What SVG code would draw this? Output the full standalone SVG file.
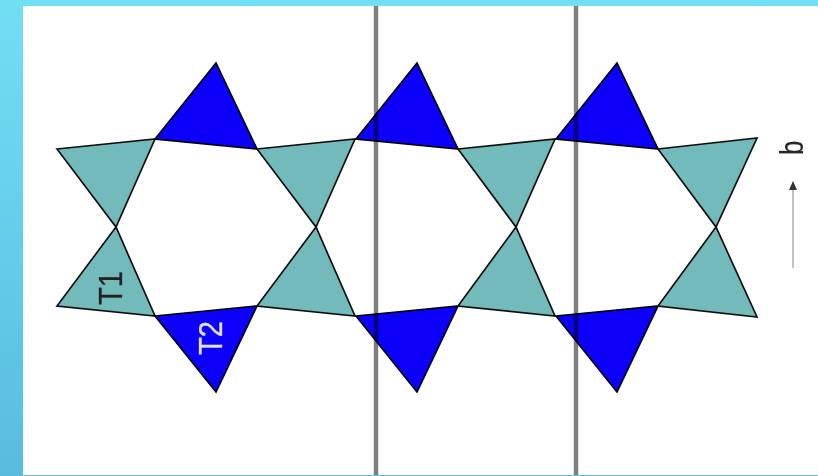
<svg xmlns="http://www.w3.org/2000/svg" width="818" height="476" viewBox="0 0 818 476">
<defs>
<linearGradient id="bg" x1="0" y1="0" x2="0" y2="1"><stop offset="0" stop-color="#72DEF4"/><stop offset="1" stop-color="#59BCDF"/></linearGradient>
<filter id="soft" filterUnits="userSpaceOnUse" x="0" y="0" width="818" height="476"><feGaussianBlur stdDeviation="0.7"/></filter>
<filter id="softline" filterUnits="userSpaceOnUse" x="360" y="0" width="230" height="476"><feGaussianBlur stdDeviation="0.7"/></filter>
<marker id="ah" markerWidth="10" markerHeight="10" refX="8" refY="4" orient="auto" markerUnits="userSpaceOnUse"><path d="M0 0L9 4L0 8Z" fill="#333"/></marker>
</defs>
<style>
.t{fill:#73BABA;stroke:#111;stroke-width:1.7}
.b{fill:#0A00FA;stroke:#000;stroke-width:1.7}
.r{stroke:#7E7E7E;stroke-width:4.4;fill:none}
text{font-family:"Liberation Sans",Arial,sans-serif;font-size:27px;stroke-width:0.2px}
</style>
<rect width="818" height="476" fill="url(#bg)"/>
<rect x="23" y="6" width="795" height="469" fill="#fff"/>
<g id="tetrahedra" filter="url(#soft)">
<g id="t1-top-1"><polygon class="t" points="57,149 155,139 116,227"/></g>
<g id="t2-top-1"><polygon class="b" points="216,63 155,139 257,149"/></g>
<g id="t1-top-2"><polygon class="t" points="257,149 355,139 316,227"/></g>
<g id="t2-top-2"><polygon class="b" points="417,63 356,139 458,149"/></g>
<g id="t1-top-3"><polygon class="t" points="458,149 555,139 516,227"/></g>
<g id="t2-top-3"><polygon class="b" points="617,63 556,139 658,149"/></g>
<g id="t1-top-4"><polygon class="t" points="658,149 757,138 716,227"/></g>
<g id="t1-bot-1"><polygon class="t" points="116,227 57,306 155,316"/></g>
<g id="t2-bot-1"><polygon class="b" points="155,316 257,306 216,392"/></g>
<g id="t1-bot-2"><polygon class="t" points="316,227 257,306 355,316"/></g>
<g id="t2-bot-2"><polygon class="b" points="356,316 458,306 417,392"/></g>
<g id="t1-bot-3"><polygon class="t" points="516,227 458,306 555,316"/></g>
<g id="t2-bot-3"><polygon class="b" points="556,316 658,306 617,392"/></g>
<g id="t1-bot-4"><polygon class="t" points="716,227 658,306 757,317"/></g>
</g>
<g id="connectors">
<g filter="url(#softline)" style="mix-blend-mode:multiply">
<line class="r" x1="376" y1="6" x2="376" y2="475"/>
<line class="r" x1="576" y1="6" x2="576" y2="475"/>
</g>
<line x1="793" y1="268" x2="793" y2="182" stroke="#999" stroke-width="1.2" marker-end="url(#ah)"/>
</g>
<g id="labels" filter="url(#soft)">
<text transform="translate(121.5,305) rotate(-90) scale(1.08,1.2)" fill="#222" stroke="#222">T1</text>
<text transform="translate(221.5,355) rotate(-90) scale(1.08,1.2)" fill="#E0E0FF" stroke="#E0E0FF">T2</text>
<text transform="translate(803,155) rotate(-90) scale(0.95,1.2)" fill="#222" stroke="#222">b</text>
</g>
</svg>
